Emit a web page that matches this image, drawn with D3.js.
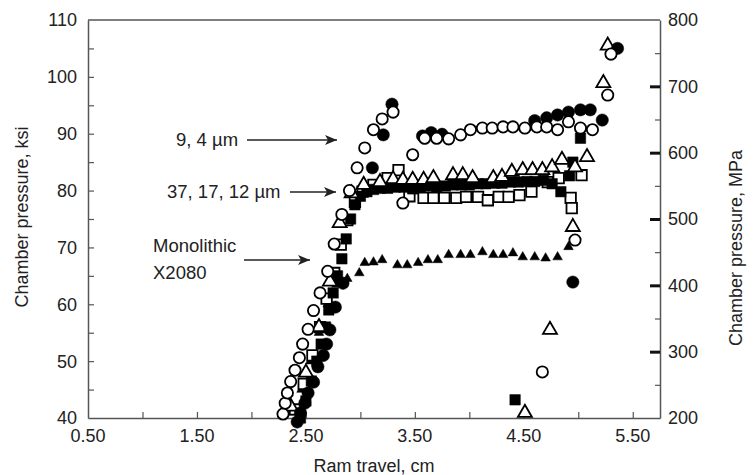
<!DOCTYPE html>
<html>
<head>
<meta charset="utf-8">
<script src="https://cdn.jsdelivr.net/npm/d3@7"></script>
<style>
  body { margin: 0; background: #fff; }
  svg text { font-family: "Liberation Sans", Arial, sans-serif; fill: #222; }
</style>
</head>
<body>
<div id="chart"></div>
<script>
// tick labels
const xTickLabels = [0.5, 1.5, 2.5, 3.5, 4.5, 5.5];
const ksiTicks = [40, 50, 60, 70, 80, 90, 100, 110];
const mpaTicks = [200, 300, 400, 500, 600, 700, 800];

// [ram travel cm, chamber pressure ksi]
const openCircles = [
  [2.29, 40.7], [2.31, 42.6], [2.33, 44.4], [2.36, 46.4], [2.40, 48.4], [2.44, 50.6],
  [2.47, 53.0], [2.52, 55.6], [2.57, 58.9], [2.63, 62.0], [2.70, 65.8], [2.76, 70.6],
  [2.83, 75.8], [2.90, 80.0], [2.97, 84.0], [3.04, 87.5], [3.12, 90.7], [3.20, 92.6],
  [3.30, 93.8], [3.39, 77.8], [3.48, 86.3], [3.59, 89.2], [3.70, 89.2], [3.81, 89.1],
  [3.92, 89.8], [4.01, 90.7], [4.12, 91.0], [4.21, 91.0], [4.31, 91.2], [4.40, 91.2],
  [4.51, 91.0], [4.62, 91.2], [4.71, 91.2], [4.81, 90.7], [4.91, 92.1], [5.02, 91.0],
  [5.13, 90.7], [5.27, 96.8], [5.30, 104.0], [4.97, 71.3], [4.67, 48.1]
];
const filledCircles = [
  [2.42, 39.3], [2.45, 40.9], [2.49, 42.6], [2.52, 44.4], [2.57, 46.3], [2.61, 49.0],
  [2.66, 51.0], [2.69, 53.0], [2.72, 55.5], [2.77, 59.5], [2.84, 63.7], [3.11, 84.0],
  [3.21, 89.8], [3.29, 95.2], [3.57, 89.6], [3.65, 90.2], [3.75, 89.9], [4.60, 92.3],
  [4.71, 92.8], [4.81, 93.3], [4.91, 93.8], [5.02, 94.2], [5.11, 94.2], [5.22, 92.4],
  [5.36, 105.0], [4.95, 63.9]
];
const openSquares = [
  [2.40, 41.5], [2.48, 46.0], [2.56, 51.0], [2.63, 56.0], [2.69, 61.0], [2.76, 65.5],
  [2.82, 70.5], [2.88, 74.8], [2.95, 78.0], [3.02, 79.8], [3.12, 81.0], [3.25, 82.2],
  [3.35, 83.6], [3.45, 79.0], [3.58, 78.7], [3.67, 78.7], [3.77, 78.7], [3.88, 78.7],
  [3.97, 78.9], [4.08, 78.9], [4.17, 78.3], [4.27, 78.9], [4.36, 78.9], [4.46, 79.2],
  [4.57, 79.8], [4.72, 81.5], [4.82, 82.2], [4.93, 78.7], [4.94, 76.9], [5.03, 82.7]
];
const filledSquares = [
  [2.45, 40.0], [2.50, 43.0], [2.55, 46.5], [2.60, 50.0], [2.64, 53.0], [2.68, 56.0],
  [2.71, 59.0], [2.75, 62.0], [2.79, 65.0], [2.83, 68.0], [2.87, 71.5], [2.91, 75.0],
  [2.95, 77.5], [3.00, 79.0], [3.06, 79.8], [3.12, 80.2], [3.18, 80.4], [3.25, 80.4],
  [3.32, 80.6], [3.40, 80.6], [3.48, 80.3], [3.55, 80.6], [3.63, 80.8], [3.70, 80.6],
  [3.78, 80.8], [3.85, 81.0], [3.93, 81.0], [4.00, 81.0], [4.08, 81.2], [4.15, 81.2],
  [4.23, 81.3], [4.30, 81.3], [4.38, 81.5], [4.45, 81.5], [4.53, 81.6], [4.60, 81.6],
  [4.68, 81.8], [4.76, 81.2], [4.84, 79.8], [4.92, 82.6], [4.95, 85.0], [5.02, 89.2],
  [4.42, 43.2]
];
const openTriangles = [
  [2.36, 42.0], [2.50, 48.0], [2.62, 56.0], [2.72, 64.0], [2.81, 74.3], [2.92, 79.5],
  [3.03, 81.0], [3.18, 81.5], [3.30, 82.0], [3.39, 81.9], [3.48, 81.9], [3.58, 81.9],
  [3.67, 82.2], [3.85, 82.7], [3.94, 82.7], [4.03, 82.2], [4.22, 82.2], [4.30, 82.4],
  [4.39, 83.3], [4.49, 83.6], [4.58, 83.6], [4.67, 83.6], [4.76, 84.1], [4.85, 85.4],
  [4.97, 84.1], [5.08, 85.9], [5.23, 98.9], [5.27, 105.5], [4.95, 73.6], [4.74, 55.5],
  [4.51, 40.9]
];
const monolithic = [
  [2.38, 41.0], [2.46, 45.0], [2.54, 50.0], [2.62, 55.0], [2.70, 60.0], [2.78, 63.5],
  [2.88, 64.5], [2.99, 65.5], [3.04, 67.3], [3.12, 67.4], [3.20, 67.8], [3.34, 66.9],
  [3.43, 66.9], [3.53, 67.3], [3.62, 67.8], [3.71, 67.8], [3.81, 68.7], [3.92, 68.7],
  [4.01, 68.7], [4.12, 69.2], [4.22, 68.7], [4.31, 68.7], [4.40, 69.0], [4.49, 68.3],
  [4.60, 68.3], [4.70, 68.1], [4.81, 68.3], [4.91, 70.1]
];

const W = 753, H = 475;
const plot = { left: 88, right: 660, top: 20, bottom: 418 };

const x = d3.scaleLinear().domain([0.5, 5.75]).range([plot.left, plot.right]);
const y = d3.scaleLinear().domain([40, 110]).range([plot.bottom, plot.top]);
const yR = d3.scaleLinear().domain([200, 800]).range([plot.bottom, plot.top]);

const svg = d3.select("#chart").append("svg")
  .attr("width", W)
  .attr("height", H);

const axisColor = "#555";
const fontSize = "18px";

// bottom axis: ticks every 0.5, labels on the odd halves
const xAxis = svg.append("g")
  .attr("transform", "translate(0," + plot.bottom + ")")
  .call(d3.axisBottom(x).tickValues(d3.range(1.0, 5.51, 0.5)).tickSizeInner(-6).tickSizeOuter(0).tickFormat(""));
xAxis.select(".domain").attr("stroke", axisColor).attr("stroke-width", 1.5);
xAxis.selectAll(".tick line").attr("stroke", axisColor).attr("stroke-width", 1.2);

svg.append("g").selectAll("text")
  .data(xTickLabels)
  .join("text")
  .attr("x", d => x(d))
  .attr("y", plot.bottom + 24)
  .attr("text-anchor", "middle")
  .style("font-size", fontSize)
  .text(d => d3.format(".2f")(d));

// left axis
const yAxis = svg.append("g")
  .attr("transform", "translate(" + plot.left + ",0)")
  .call(d3.axisLeft(y).tickValues(d3.range(45, 106, 5)).tickSizeInner(-6).tickSizeOuter(0).tickFormat(""));
yAxis.select(".domain").attr("stroke", axisColor).attr("stroke-width", 1.5);
yAxis.selectAll(".tick line").attr("stroke", axisColor).attr("stroke-width", 1.2);

svg.append("g").selectAll("text")
  .data(ksiTicks)
  .join("text")
  .attr("x", plot.left - 11)
  .attr("y", d => y(d))
  .attr("dy", "0.36em")
  .attr("text-anchor", "end")
  .style("font-size", fontSize)
  .text(d => d);

// right axis: thick ticks on the hundreds, thin ones between
const yRAxis = svg.append("g")
  .attr("transform", "translate(" + plot.right + ",0)")
  .call(d3.axisRight(yR).tickValues(d3.range(250, 751, 50)).tickSizeOuter(0).tickFormat(""));
yRAxis.select(".domain").attr("stroke", axisColor).attr("stroke-width", 1.5);
yRAxis.selectAll(".tick line")
  .attr("x2", d => d % 100 === 0 ? -10 : -5)
  .attr("stroke", d => d % 100 === 0 ? "#111" : axisColor)
  .attr("stroke-width", d => d % 100 === 0 ? 3 : 1.2);

svg.append("g").selectAll("text")
  .data(mpaTicks)
  .join("text")
  .attr("x", plot.right + 8)
  .attr("y", d => yR(d))
  .attr("dy", "0.36em")
  .style("font-size", fontSize)
  .text(d => d);

// top frame line
svg.append("line")
  .attr("x1", plot.left).attr("x2", plot.right)
  .attr("y1", plot.top).attr("y2", plot.top)
  .attr("stroke", axisColor).attr("stroke-width", 1.5);

// axis titles
svg.append("text")
  .attr("x", (plot.left + plot.right) / 2)
  .attr("y", 472)
  .attr("text-anchor", "middle")
  .style("font-size", fontSize)
  .text("Ram travel, cm");

svg.append("text")
  .attr("transform", "translate(28," + 217 + ") rotate(-90)")
  .attr("text-anchor", "middle")
  .style("font-size", fontSize)
  .text("Chamber pressure, ksi");

svg.append("text")
  .attr("transform", "translate(742," + 248 + ") rotate(-90)")
  .attr("text-anchor", "middle")
  .style("font-size", fontSize)
  .text("Chamber pressure, MPa");

// markers
const marks = svg.append("g");

function drawSymbols(data, type, size, filled) {
  marks.append("g").selectAll("path")
    .data(data)
    .join("path")
    .attr("transform", d => "translate(" + x(d[0]) + "," + y(d[1]) + ")")
    .attr("d", d3.symbol().type(type).size(size))
    .attr("fill", filled ? "#000" : "#fff")
    .attr("stroke", "#000")
    .attr("stroke-width", filled ? 0.5 : 1.8);
}

drawSymbols(monolithic, d3.symbolTriangle, 40, true);
drawSymbols(openSquares, d3.symbolSquare, 110, false);
drawSymbols(filledSquares, d3.symbolSquare, 110, true);
drawSymbols(openTriangles, d3.symbolTriangle, 85, false);
drawSymbols(filledCircles, d3.symbolCircle, 120, true);
drawSymbols(openCircles, d3.symbolCircle, 100, false);

// annotations with arrows
const defs = svg.append("defs");
defs.append("marker")
  .attr("id", "head")
  .attr("viewBox", "0 0 12 10")
  .attr("refX", 12).attr("refY", 5)
  .attr("markerWidth", 12).attr("markerHeight", 10)
  .attr("markerUnits", "userSpaceOnUse")
  .attr("orient", "auto")
  .append("path")
  .attr("d", "M0,0 L12,5 L0,10 L3,5 Z")
  .attr("fill", "#222");

const notes = [
  { lines: ["9, 4 \u00b5m"], tx: 176, ty: 146, ax1: 247, ax2: 337, ay: 140 },
  { lines: ["37, 17, 12 \u00b5m"], tx: 167, ty: 198, ax1: 290, ax2: 336, ay: 192 },
  { lines: ["Monolithic", "X2080"], tx: 153, ty: 252, ax1: 244, ax2: 310, ay: 260 }
];

notes.forEach(n => {
  n.lines.forEach((t, i) => {
    svg.append("text")
      .attr("x", n.tx)
      .attr("y", n.ty + i * 27)
      .style("font-size", "18.5px")
      .text(t);
  });
  svg.append("line")
    .attr("x1", n.ax1).attr("x2", n.ax2)
    .attr("y1", n.ay).attr("y2", n.ay)
    .attr("stroke", "#222").attr("stroke-width", 1.5)
    .attr("marker-end", "url(#head)");
});
</script>
</body>
</html>
